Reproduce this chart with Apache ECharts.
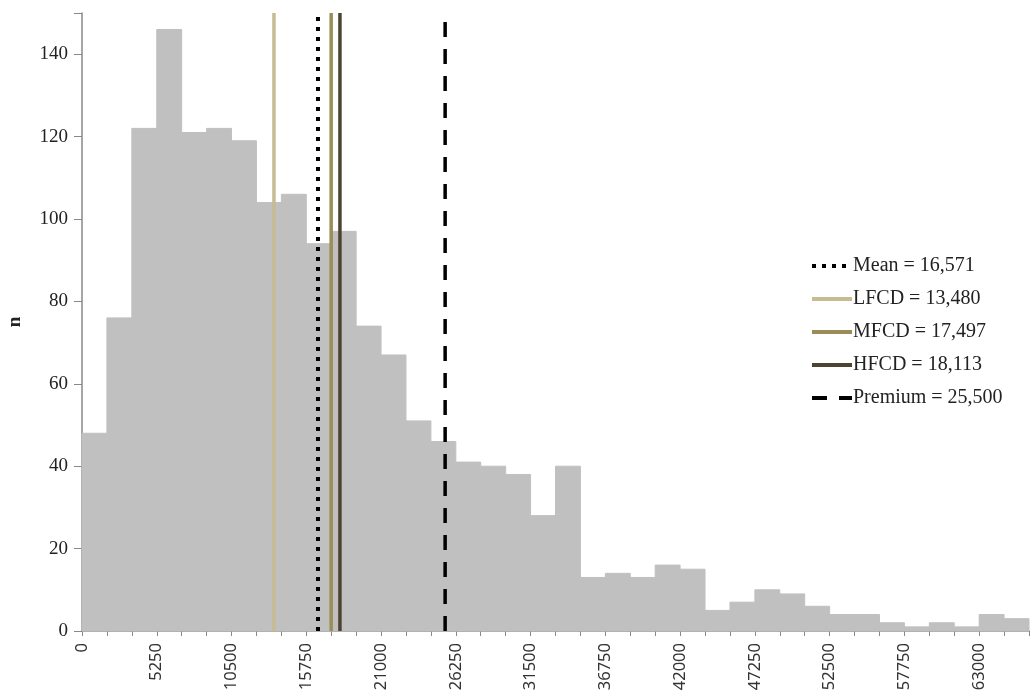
<!DOCTYPE html>
<html>
<head>
<meta charset="utf-8">
<script src="https://cdn.jsdelivr.net/npm/echarts@6/dist/echarts.min.js"></script>
<style>
html,body{margin:0;padding:0;background:#fff;}
#chart{width:1034px;height:696px;}
</style>
</head>
<body>
<div id="chart"></div>
<script>
// Histogram bins (width 1750) starting at 0
var binWidth = 1750;
var counts = [48, 76, 122, 146, 121, 122, 119, 104, 106, 94,
              97, 74, 67, 51, 46, 41, 40, 38, 28, 40,
              13, 14, 13, 16, 15, 5, 7, 10, 9, 6,
              4, 4, 2, 1, 2, 1, 4, 3];
// Reference lines
var refNames  = ['Mean = 16,571', 'LFCD = 13,480', 'MFCD = 17,497', 'HFCD = 18,113', 'Premium = 25,500'];
var refValues = [16571, 13480, 17497, 18113, 25500];
var refColors = ['#000000', '#c6bb92', '#9a8d58', '#4a4430', '#000000'];
var refTypes  = [[4, 6], 'solid', 'solid', 'solid', [15, 12]];
var refWidths = [4, 3.5, 3.5, 3.5, 3.5];
var xTickStep = 5250;

var histData = counts.map(function (c, i) { return [i * binWidth, (i + 1) * binWidth, c]; });

var series = [{
  type: 'custom',
  name: 'hist',
  encode: { x: [0, 1], y: 2 },
  data: histData,
  z: 1,
  renderItem: function (params, api) {
    var p0 = api.coord([api.value(0), api.value(2)]);
    var p1 = api.coord([api.value(1), 0]);
    return {
      type: 'rect',
      shape: { x: p0[0], y: p0[1], width: p1[0] - p0[0], height: p1[1] - p0[1] },
      style: { fill: '#c0c0c0', stroke: '#c0c0c0', lineWidth: 1 }
    };
  }
}];
refValues.forEach(function (v, i) {
  series.push({
    type: 'line',
    name: refNames[i],
    data: [[v, 0], [v, 150]],
    symbol: 'none',
    showSymbol: false,
    z: 5 + (i === 0 ? 2 : 0),
    color: refColors[i],
    lineStyle: { color: refColors[i], width: refWidths[i], type: refTypes[i] }
  });
});

var chart = echarts.init(document.getElementById('chart'));
chart.setOption({
  animation: false,
  backgroundColor: '#fff',
  grid: { left: 82, right: 5, top: 13, bottom: 65, containLabel: false, outerBoundsMode: 'none' },
  legend: {
    data: refNames,
    orient: 'vertical',
    left: 805,
    top: 251,
    itemWidth: 40,
    itemHeight: 12,
    itemGap: 13,
    itemStyle: { opacity: 0, borderWidth: 0 },
    lineStyle: { width: 4 },
    textStyle: { fontFamily: 'Liberation Serif', fontSize: 20, color: '#222', padding: [0, 0, 0, -4] }
  },
  xAxis: {
    type: 'value',
    min: 0,
    max: 66500,
    interval: binWidth,
    axisLine: { lineStyle: { color: '#888', width: 1.5 } },
    axisTick: { length: 5, lineStyle: { color: '#888' } },
    splitLine: { show: false },
    axisLabel: {
      rotate: 90,
      fontFamily: 'Noto Sans',
      fontSize: 16.5,
      color: '#333',
      margin: 12,
      formatter: function (v) { return v % xTickStep === 0 ? String(v) : ''; }
    }
  },
  yAxis: {
    type: 'value',
    min: 0,
    max: 150,
    interval: 20,
    name: 'n',
    nameLocation: 'middle',
    nameRotate: 90,
    nameGap: 57,
    nameTextStyle: { fontFamily: 'Liberation Serif', fontSize: 19, fontWeight: 'bold', color: '#222' },
    axisLine: { show: true, lineStyle: { color: '#888', width: 1.5 } },
    axisTick: { show: true, length: 8, lineStyle: { color: '#888' } },
    splitLine: { show: false },
    axisLabel: {
      fontFamily: 'Liberation Serif',
      fontSize: 19,
      color: '#222',
      margin: 14,
      formatter: function (v) { return v % 20 === 0 ? String(v) : ''; }
    }
  },
  series: series
});
</script>
</body>
</html>
